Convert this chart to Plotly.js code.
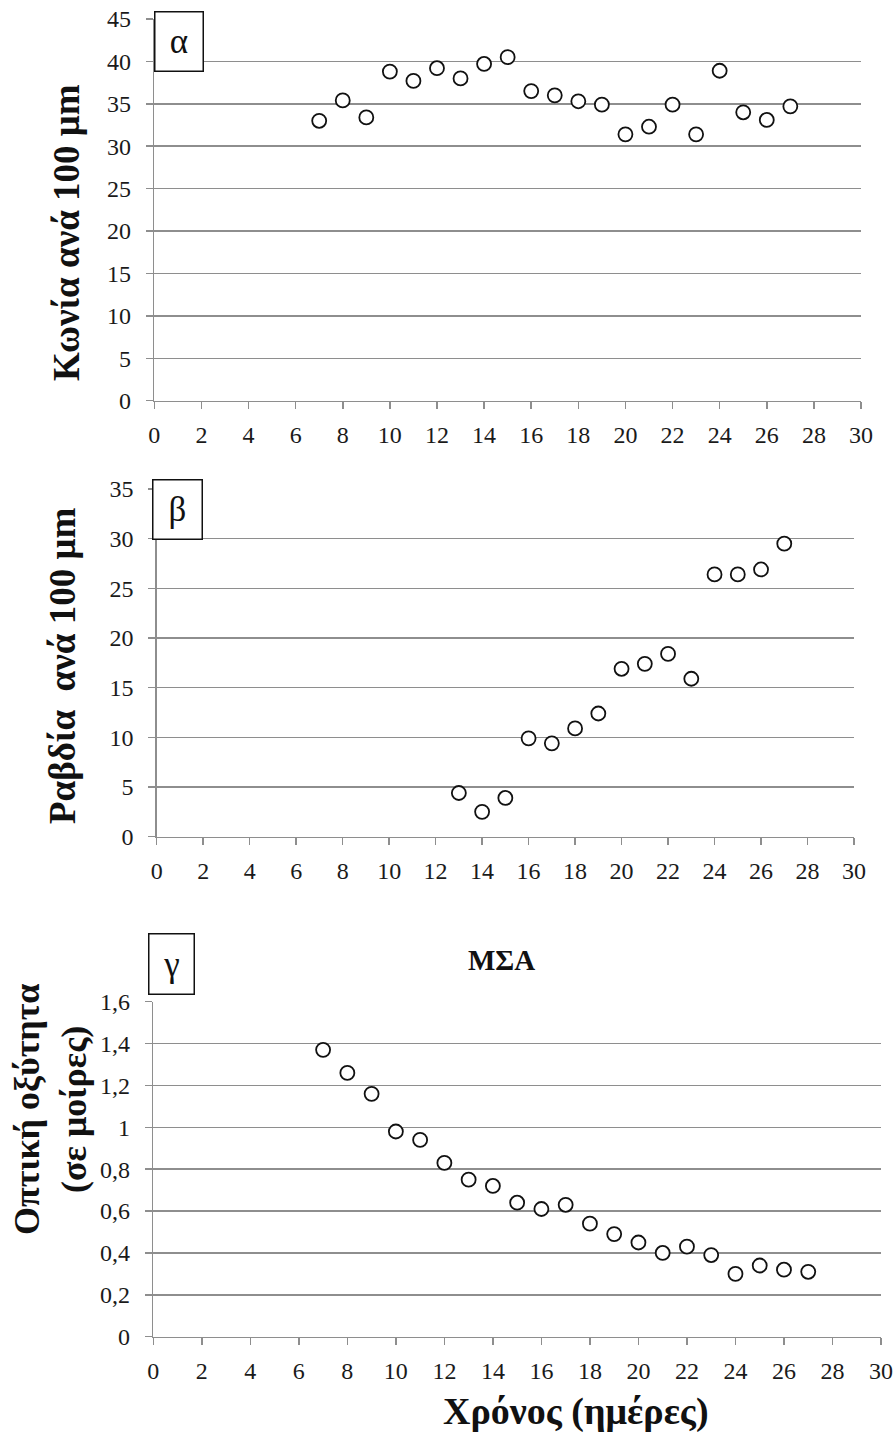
<!DOCTYPE html>
<html>
<head>
<meta charset="utf-8">
<script src="https://cdn.plot.ly/plotly-3.0.1.min.js"></script>
<style>html,body{margin:0;padding:0;background:#fff;}#chart{width:896px;height:1432px;}</style>
</head>
<body>
<div id="chart"></div>
<script>
// ---- data ----
var daysCones = [7,8,9,10,11,12,13,14,15,16,17,18,19,20,21,22,23,24,25,26,27];
var cones = [33.0,35.4,33.4,38.8,37.7,39.2,38.0,39.7,40.5,36.5,36.0,35.3,34.9,31.4,32.3,34.9,31.4,38.9,34.0,33.1,34.7];
var daysRods = [13,14,15,16,17,18,19,20,21,22,23,24,25,26,27];
var rods = [4.4,2.5,3.9,9.9,9.4,10.9,12.4,16.9,17.4,18.4,15.9,26.4,26.4,26.9,29.5];
var daysAcuity = [7,8,9,10,11,12,13,14,15,16,17,18,19,20,21,22,23,24,25,26,27];
var acuity = [1.37,1.26,1.16,0.98,0.94,0.83,0.75,0.72,0.64,0.61,0.63,0.54,0.49,0.45,0.40,0.43,0.39,0.30,0.34,0.32,0.31];
var xTicks = [0,2,4,6,8,10,12,14,16,18,20,22,24,26,28,30];
var acuityTickVals = [0,0.2,0.4,0.6,0.8,1,1.2,1.4,1.6];
var acuityTickText = ['0','0,2','0,4','0,6','0,8','1','1,2','1,4','1,6'];
var panelLabels = ['α','β','γ'];
var yTitles = ['Κωνία ανά 100 μm','Ραβδία  ανά 100 μm','Οπτική οξύτητα<br>(σε μοίρες)'];
var xTitle = 'Χρόνος (ημέρες)';
var subTitle = 'ΜΣΑ';

// ---- helpers (pixel -> paper) ----
var W = 896, H = 1432;
function px(x){ return x / W; }
function py(y){ return 1 - y / H; }

var GRID = '#8e8e8e';
var SERIF = 'Liberation Serif, Times New Roman, serif';
var tickFont = {family:SERIF, size:24, color:'#1a1a1a'};

function mk(x, y, xa, ya){
  return {x:x, y:y, xaxis:xa, yaxis:ya, type:'scatter', mode:'markers',
    marker:{symbol:'circle', size:14, color:'rgba(255,255,255,1)', line:{width:1.8, color:'#111'}},
    cliponaxis:false, hoverinfo:'x+y'};
}

var data = [
  mk(daysCones, cones, 'x', 'y'),
  mk(daysRods, rods, 'x2', 'y2'),
  mk(daysAcuity, acuity, 'x3', 'y3')
];

function xax(left, right, anchor){
  return {domain:[px(left), px(right)], range:[0,30], anchor:anchor, tickvals:xTicks, ticks:'outside', ticklen:7, tickwidth:1.5, tickcolor:GRID,
    showline:true, linecolor:GRID, linewidth:1.5, showgrid:false, zeroline:false, tickfont:tickFont, ticklabelstandoff:5, automargin:false, fixedrange:true};
}
function yax(top, bottom, anchor, range, dtick){
  return {domain:[py(bottom), py(top)], range:range, anchor:anchor, dtick:dtick, tick0:0, ticks:'outside', ticklen:7, tickwidth:1.5, tickcolor:GRID,
    showline:true, linecolor:GRID, linewidth:1.5, showgrid:true, gridcolor:GRID, gridwidth:1.5, zeroline:false, tickfont:tickFont, ticklabelstandoff:10, automargin:false, fixedrange:true};
}

var ya3 = yax(1001.7, 1336.7, 'x3', [0,1.6], 0.2);
ya3.tickmode = 'array'; ya3.tickvals = acuityTickVals; ya3.ticktext = acuityTickText;

var boldFont = function(s){ return {family:SERIF, size:s, color:'#111'}; };

function box(cx, cy, w, h, txt){
  return {xref:'paper', yref:'paper', x:px(cx), y:py(cy), xanchor:'center', yanchor:'middle', text:txt, showarrow:false,
    width:w, height:h, bgcolor:'#fff', bordercolor:'#111', borderwidth:1.5, borderpad:0, valign:'middle',
    font:{family:SERIF, size:35, color:'#111'}};
}

var layout = {
  width:W, height:H, margin:{l:0,r:0,t:0,b:0}, paper_bgcolor:'#fff', plot_bgcolor:'#fff', showlegend:false,
  separators:',.',
  xaxis: xax(154.3, 861, 'y'),
  yaxis: yax(19, 400.7, 'x', [0,45], 5),
  xaxis2: xax(156.7, 854, 'y2'),
  yaxis2: yax(489, 836.7, 'x2', [0,35], 5),
  xaxis3: xax(153.3, 881, 'y3'),
  yaxis3: ya3,
  annotations: [
    box(179, 41.5, 47, 58, panelLabels[0]),
    box(177.2, 509.5, 48, 58, panelLabels[1]),
    box(171.7, 964, 44, 59, panelLabels[2]),
    {xref:'paper', yref:'paper', x:px(66), y:py(233), xanchor:'center', yanchor:'middle', textangle:-90, showarrow:false,
      text:'<b>'+yTitles[0]+'</b>', font:boldFont(37)},
    {xref:'paper', yref:'paper', x:px(62), y:py(666), xanchor:'center', yanchor:'middle', textangle:-90, showarrow:false,
      text:'<b>'+yTitles[1]+'</b>', font:boldFont(37)},
    {xref:'paper', yref:'paper', x:px(50), y:py(1110), xanchor:'center', yanchor:'middle', textangle:-90, showarrow:false,
      text:'<b>'+yTitles[2]+'</b>', font:boldFont(36)},
    {xref:'paper', yref:'paper', x:px(502), y:py(960), xanchor:'center', yanchor:'middle', showarrow:false,
      text:'<b>'+subTitle+'</b>', font:boldFont(29)},
    {xref:'paper', yref:'paper', x:px(576), y:py(1411), xanchor:'center', yanchor:'middle', showarrow:false,
      text:'<b>'+xTitle+'</b>', font:boldFont(38)}
  ]
};

Plotly.newPlot('chart', data, layout, {staticPlot:true, displayModeBar:false});
</script>
</body>
</html>
